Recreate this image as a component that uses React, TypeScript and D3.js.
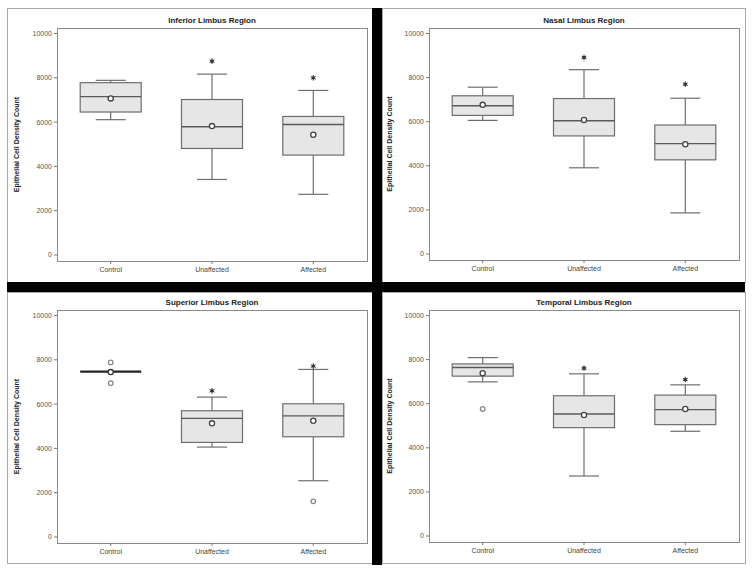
import React from "react";
import * as d3 from "d3";

const categories = ["Control", "Unaffected", "Affected"];
const regionTitles = [
  "Inferior Limbus Region",
  "Nasal Limbus Region",
  "Superior Limbus Region",
  "Temporal Limbus Region",
];
const yTicks = [0, 2000, 4000, 6000, 8000, 10000];

// per region: values for [Control, Unaffected, Affected]
const inferiorLow = [6110, 3410, 2740];
const inferiorQ1 = [6455, 4810, 4510];
const inferiorMedian = [7150, 5790, 5890];
const inferiorQ3 = [7780, 7020, 6255];
const inferiorHigh = [7885, 8165, 7430];
const inferiorMean = [7070, 5820, 5430];
const inferiorFar = [[], [8750], [8000]];
const inferiorNear: number[][] = [[], [], []];

const nasalLow = [6060, 3910, 1865];
const nasalQ1 = [6285, 5355, 4270];
const nasalMedian = [6720, 6045, 5005];
const nasalQ3 = [7175, 7050, 5850];
const nasalHigh = [7565, 8360, 7065];
const nasalMean = [6765, 6075, 4975];
const nasalFar = [[], [8915], [7700]];
const nasalNear: number[][] = [[], [], []];

const superiorLow = [7470, 4060, 2540];
const superiorQ1 = [7470, 4270, 4525];
const superiorMedian = [7470, 5355, 5470];
const superiorQ3 = [7470, 5700, 6015];
const superiorHigh = [7470, 6315, 7565];
const superiorMean = [7445, 5130, 5245];
const superiorFar = [[], [6600], [7715]];
const superiorNear = [[7880, 6945], [], [1610]];

const temporalLow = [6990, 2720, 4750];
const temporalQ1 = [7250, 4915, 5050];
const temporalMedian = [7640, 5535, 5730];
const temporalQ3 = [7805, 6360, 6390];
const temporalHigh = [8090, 7355, 6855];
const temporalMean = [7385, 5490, 5760];
const temporalFar = [[], [7610], [7095]];
const temporalNear = [[5760], [], []];

const regionData = [
  { low: inferiorLow, q1: inferiorQ1, med: inferiorMedian, q3: inferiorQ3, high: inferiorHigh, mean: inferiorMean, far: inferiorFar, near: inferiorNear },
  { low: nasalLow, q1: nasalQ1, med: nasalMedian, q3: nasalQ3, high: nasalHigh, mean: nasalMean, far: nasalFar, near: nasalNear },
  { low: superiorLow, q1: superiorQ1, med: superiorMedian, q3: superiorQ3, high: superiorHigh, mean: superiorMean, far: superiorFar, near: superiorNear },
  { low: temporalLow, q1: temporalQ1, med: temporalMedian, q3: temporalQ3, high: temporalHigh, mean: temporalMean, far: temporalFar, near: temporalNear },
];

// layout
const W = 754;
const H = 573;
const panels = [
  { fx0: 7, fy0: 8, fx1: 372, fy1: 282, l: 57, r: 367, t: 28, b: 261, labX: 17 },
  { fx0: 382, fy0: 8, fx1: 745, fy1: 282, l: 429, r: 739, t: 28, b: 260, labX: 390 },
  { fx0: 7, fy0: 292, fx1: 372, fy1: 563, l: 57, r: 367, t: 310, b: 543, labX: 17 },
  { fx0: 382, fy0: 292, fx1: 745, fy1: 563, l: 429, r: 739, t: 310, b: 542, labX: 390 },
];

const FONT = "'Liberation Sans', Arial, sans-serif";
const boxW = 61;
const capW = 30;
const asterisk = d3.symbol().type(d3.symbolAsterisk).size(22)();

function Panel({ idx }: { idx: number }) {
  const p = panels[idx];
  const d = regionData[idx];
  const y = d3.scaleLinear().domain([0, 10000]).range([p.b - 6, p.t + 5.5]);
  const x = d3.scalePoint<string>().domain(categories).range([p.l, p.r]).padding(0.53);
  const midY = (p.t + p.b) / 2;
  return (
    <g>
      <rect x={p.fx0 + 0.5} y={p.fy0 + 0.5} width={p.fx1 - p.fx0} height={p.fy1 - p.fy0} fill="#fff" stroke="#a8a8a8" strokeWidth={1} />
      <text x={(p.l + p.r) / 2} y={p.t - 5} textAnchor="middle" fontFamily={FONT} fontWeight="bold" fontSize={8} fill="#222">
        {regionTitles[idx]}
      </text>
      <rect x={p.l + 0.5} y={p.t + 0.5} width={p.r - p.l} height={p.b - p.t} fill="none" stroke="#8a8a8a" strokeWidth={1} />
      {yTicks.map((t) => (
        <g key={t}>
          <line x1={p.l - 3} x2={p.l} y1={y(t)} y2={y(t)} stroke="#777" strokeWidth={1} />
          <text x={p.l - 5} y={y(t)} dy="0.35em" textAnchor="end" fontFamily={FONT} fontSize={7} fill="#555">
            {t}
          </text>
        </g>
      ))}
      <text
        transform={`translate(${p.labX},${midY}) rotate(-90)`}
        textAnchor="middle"
        dy="0.35em"
        fontFamily={FONT}
        fontWeight="bold"
        fontSize={7}
        fill="#222"
      >
        Epithelial Cell Density Count
      </text>
      {categories.map((c, i) => {
        const cx = x(c) as number;
        const collapsed = d.q1[i] === d.q3[i];
        return (
          <g key={c}>
            <line x1={cx} x2={cx} y1={p.b} y2={p.b + 3} stroke="#777" strokeWidth={1} />
            <text x={cx} y={p.b + 11} textAnchor="middle" fontFamily={FONT} fontSize={7} fill="#444">
              {c}
            </text>
            {!collapsed && (
              <g stroke="#6e6e6e" strokeWidth={1.2}>
                <line x1={cx} x2={cx} y1={y(d.high[i])} y2={y(d.q3[i])} />
                <line x1={cx} x2={cx} y1={y(d.q1[i])} y2={y(d.low[i])} />
                <line x1={cx - capW / 2} x2={cx + capW / 2} y1={y(d.high[i])} y2={y(d.high[i])} />
                <line x1={cx - capW / 2} x2={cx + capW / 2} y1={y(d.low[i])} y2={y(d.low[i])} />
                <rect x={cx - boxW / 2} y={y(d.q3[i])} width={boxW} height={y(d.q1[i]) - y(d.q3[i])} fill="#e6e6e6" />
                <line x1={cx - boxW / 2} x2={cx + boxW / 2} y1={y(d.med[i])} y2={y(d.med[i])} strokeWidth={1.4} stroke="#5a5a5a" />
              </g>
            )}
            {collapsed && (
              <line x1={cx - boxW / 2} x2={cx + boxW / 2} y1={y(d.med[i])} y2={y(d.med[i])} stroke="#222" strokeWidth={2.2} />
            )}
            <circle cx={cx} cy={y(d.mean[i])} r={2.6} fill="#fff" stroke={collapsed ? "#333" : "#444"} strokeWidth={1.3} />
            {d.far[i].map((v, k) => (
              <g key={"f" + k}>
                <circle cx={cx} cy={y(v)} r={1.6} fill="#333" />
                <path d={asterisk} transform={`translate(${cx},${y(v)})`} stroke="#333" strokeWidth={1} fill="none" />
              </g>
            ))}
            {d.near[i].map((v, k) => (
              <circle key={"n" + k} cx={cx} cy={y(v)} r={2.3} fill="#fff" stroke="#8a8a8a" strokeWidth={1.3} />
            ))}
          </g>
        );
      })}
    </g>
  );
}

export default function App() {
  return (
    <svg width={W} height={H} style={{ position: "absolute", left: 0, top: 0, background: "#fff" }}>
      <rect x={0} y={0} width={W} height={H} fill="#fff" />
      {panels.map((_, i) => (
        <Panel key={i} idx={i} />
      ))}
      <rect x={372} y={8} width={10} height={557} fill="#000" />
      <rect x={7} y={282} width={738} height={10} fill="#000" />
    </svg>
  );
}
